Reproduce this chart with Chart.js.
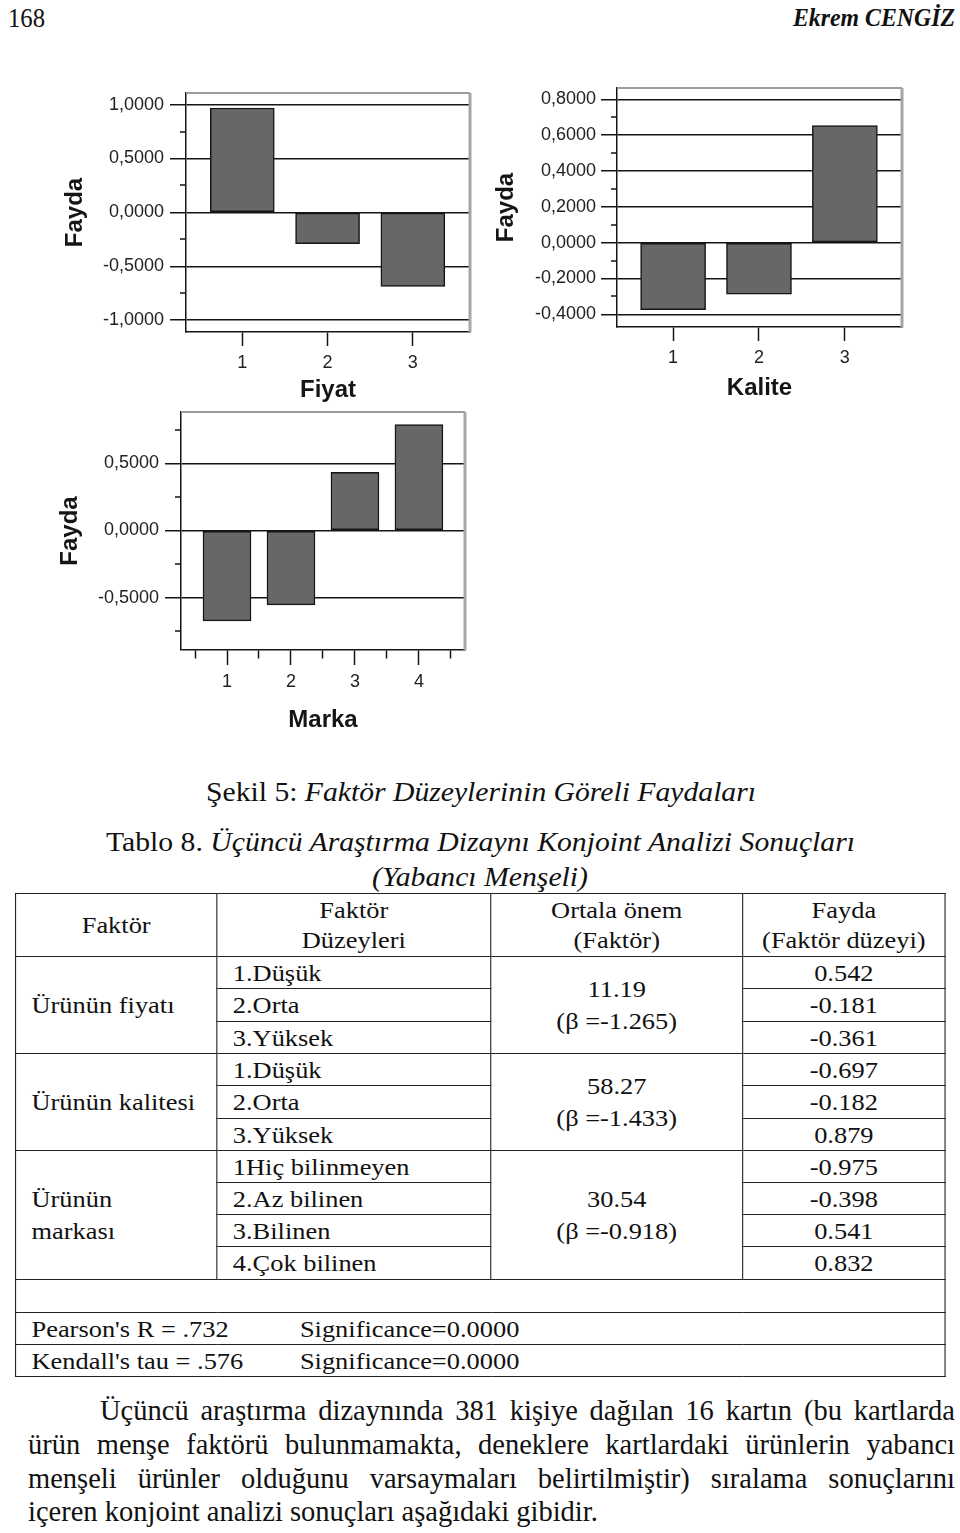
<!DOCTYPE html>
<html lang="tr">
<head>
<meta charset="UTF-8">
<title>Faktör Düzeylerinin Göreli Faydaları</title>
<script src="https://cdn.jsdelivr.net/npm/chart.js"></script>
<style>
  body { margin: 0; background: #fff; }
  #page { position: relative; width: 960px; height: 1533px; overflow: hidden; background: #fff;
          font-family: "Liberation Serif", "Times New Roman", serif; color: #111; }
  canvas { position: absolute; }
  .t { position: absolute; white-space: nowrap; display: inline-block; line-height: 1; transform-origin: 0 50%; }
  #tbl { position: absolute; left: 15px; top: 893px; width: 845px; border-collapse: collapse; table-layout: fixed;
         transform: scaleX(1.1); transform-origin: 0 0; font-size: 24px; }
  #tbl td { border: 1.5px solid #222; padding: 0 14px; line-height: 28px; vertical-align: middle; white-space: nowrap; }
  #tbl .c { text-align: center; padding: 0; }
  #tbl tr.h td { line-height: 30px; }
  #tbl td.g { line-height: 32px; }
  .par { position: absolute; font-size: 28.5px; line-height: 34px; white-space: nowrap; }
</style>
</head>
<body>
<div id="page">
  <div class="t" style="left:8px;top:5px;font-size:27px" data-w="37">168</div>
  <div class="t" style="left:793px;top:5px;font-size:26px;font-weight:bold;font-style:italic" data-w="162">Ekrem CENGİZ</div>

  <canvas id="fiyat" width="440" height="340" style="left:40px;top:70px"></canvas>
  <canvas id="kalite" width="440" height="340" style="left:480px;top:70px"></canvas>
  <canvas id="marka" width="440" height="340" style="left:40px;top:400px"></canvas>

  <div class="t" style="left:206px;top:778px;font-size:28px" data-w="550">Şekil 5: <i>Faktör Düzeylerinin Göreli Faydaları</i></div>
  <div class="t" style="left:106px;top:828px;font-size:28px" data-w="749">Tablo 8. <i>Üçüncü Araştırma Dizaynı Konjoint Analizi Sonuçları</i></div>
  <div class="t" style="left:372px;top:863px;font-size:28px" data-w="216"><i>(Yabancı Menşeli)</i></div>

  <table id="tbl">
    <colgroup><col style="width:183px"><col style="width:249px"><col style="width:229px"><col style="width:184px"></colgroup>
    <tr class="h" style="height:63px">
      <td class="c">Faktör</td>
      <td class="c">Faktör<br>Düzeyleri</td>
      <td class="c">Ortala önem<br>(Faktör)</td>
      <td class="c">Fayda<br>(Faktör düzeyi)</td>
    </tr>
    <tr style="height:32px"><td class="g" rowspan="3">Ürünün fiyatı</td><td>1.Düşük</td><td class="c g" rowspan="3">11.19<br>(β =-1.265)</td><td class="c">0.542</td></tr>
    <tr style="height:33px"><td>2.Orta</td><td class="c">-0.181</td></tr>
    <tr style="height:32px"><td>3.Yüksek</td><td class="c">-0.361</td></tr>
    <tr style="height:32px"><td class="g" rowspan="3">Ürünün kalitesi</td><td>1.Düşük</td><td class="c g" rowspan="3">58.27<br>(β =-1.433)</td><td class="c">-0.697</td></tr>
    <tr style="height:33px"><td>2.Orta</td><td class="c">-0.182</td></tr>
    <tr style="height:32px"><td>3.Yüksek</td><td class="c">0.879</td></tr>
    <tr style="height:32px"><td class="g" rowspan="4">Ürünün<br>markası</td><td>1Hiç bilinmeyen</td><td class="c g" rowspan="4">30.54<br>(β =-0.918)</td><td class="c">-0.975</td></tr>
    <tr style="height:32px"><td>2.Az bilinen</td><td class="c">-0.398</td></tr>
    <tr style="height:32px"><td>3.Bilinen</td><td class="c">0.541</td></tr>
    <tr style="height:33px"><td>4.Çok bilinen</td><td class="c">0.832</td></tr>
    <tr style="height:33px"><td colspan="4"></td></tr>
    <tr style="height:32px"><td colspan="4"><span style="display:inline-block;width:244px">Pearson's R = .732</span>Significance=0.0000</td></tr>
    <tr style="height:32px"><td colspan="4"><span style="display:inline-block;width:244px">Kendall's tau = .576</span>Significance=0.0000</td></tr>
  </table>

  <div class="par" data-j="855" style="left:100px;top:1394px">Üçüncü araştırma dizaynında 381 kişiye dağılan 16 kartın (bu kartlarda</div>
  <div class="par" data-j="927" style="left:28px;top:1428px">ürün menşe faktörü bulunmamakta, deneklere kartlardaki ürünlerin yabancı</div>
  <div class="par" data-j="927" style="left:28px;top:1462px">menşeli ürünler olduğunu varsaymaları belirtilmiştir) sıralama sonuçlarını</div>
  <div class="par" style="left:28px;top:1495px">içeren konjoint analizi sonuçları aşağıdaki gibidir.</div>
</div>

<script>
// Fiyat
const fiyatLevels = [1, 2, 3];
const fiyatValues = [0.969, -0.291, -0.687];
const fiyatMajor = [-1, -0.5, 0, 0.5, 1];
const fiyatMinor = [-0.75, -0.25, 0.25, 0.75];

// Kalite
const kaliteLevels = [1, 2, 3];
const kaliteValues = [-0.374, -0.288, 0.653];
const kaliteMajor = [-0.4, -0.2, 0, 0.2, 0.4, 0.6, 0.8];
const kaliteMinor = [-0.3, -0.1, 0.1, 0.3, 0.5, 0.7];

// Marka
const markaLevels = [1, 2, 3, 4];
const markaValues = [-0.672, -0.553, 0.432, 0.787];
const markaMajor = [-0.5, 0, 0.5];
const markaMinor = [-0.75, -0.25, 0.25, 0.75];
const markaBounds = [0.5, 1.5, 2.5, 3.5, 4.5];

const INK = '#151515';
const fmt = v => v.toFixed(4).replace('.', ',');

// gri cerceve (ust ve sag)
const framePlugin = {
    id: 'frame',
    beforeDatasetsDraw(chart) {
        const { ctx, chartArea: a } = chart;
        ctx.save();
        ctx.strokeStyle = '#9c9c9c';
        ctx.lineWidth = 2;
        ctx.beginPath(); ctx.moveTo(a.left, a.top); ctx.lineTo(a.right, a.top); ctx.stroke();
        ctx.strokeStyle = '#a6a6a6';
        ctx.lineWidth = 3;
        ctx.beginPath(); ctx.moveTo(a.right, a.top); ctx.lineTo(a.right, a.bottom); ctx.stroke();
        ctx.restore();
    }
};

function makeChart(id, levels, values, major, minor, bounds, o) {
    const xTicks = levels.concat(bounds).sort((a, b) => a - b);
    const yTicks = major.concat(minor).sort((a, b) => a - b);
    const isMajor = c => c.tick && major.includes(c.tick.value);
    const isLevel = c => c.tick && levels.includes(c.tick.value);

    new Chart(document.getElementById(id), {
        type: 'bar',
        data: {
            datasets: [{
                data: levels.map((l, i) => ({ x: l, y: values[i] })),
                backgroundColor: '#676767',
                borderColor: INK,
                borderWidth: 1.5,
                borderSkipped: false,
                barThickness: o.bar
            }]
        },
        options: {
            responsive: false,
            animation: false,
            layout: { padding: { top: o.top, right: o.right, bottom: 0, left: 0 } },
            plugins: { legend: { display: false }, tooltip: { enabled: false } },
            scales: {
                x: {
                    type: 'linear',
                    min: o.xMin, max: o.xMax,
                    offset: false,
                    afterBuildTicks: s => { s.ticks = xTicks.map(v => ({ value: v })); },
                    afterFit: s => { s.height = o.xH; s.paddingLeft = 0; s.paddingRight = 0; },
                    border: { color: INK, width: 1.5 },
                    grid: {
                        offset: false,
                        drawOnChartArea: false,
                        tickLength: o.xTl,
                        tickWidth: 1.5,
                        tickColor: INK,
                        tickBorderDash: c => isLevel(c) ? [] : [8, 100]
                    },
                    ticks: {
                        autoSkip: false, maxRotation: 0, padding: 6, color: '#222',
                        font: { family: 'Liberation Sans', size: 18 },
                        callback: v => levels.includes(v) ? String(v) : ''
                    },
                    title: {
                        display: true, text: o.xTitle, color: INK,
                        font: { family: 'Liberation Sans', size: 24, weight: 'bold' },
                        padding: { top: 0, bottom: o.xTitlePad }
                    }
                },
                y: {
                    type: 'linear',
                    min: o.yMin, max: o.yMax,
                    afterBuildTicks: s => { s.ticks = yTicks.map(v => ({ value: v })); },
                    afterFit: s => { s.width = o.yW; s.paddingTop = 0; s.paddingBottom = 0; },
                    border: { color: INK, width: 1.5 },
                    grid: {
                        color: INK,
                        lineWidth: c => isMajor(c) ? 1.5 : 0,
                        tickLength: 16,
                        tickWidth: 1.5,
                        tickColor: INK,
                        tickBorderDash: c => isMajor(c) ? [] : [0, 10, 6, 100]
                    },
                    ticks: {
                        autoSkip: false, padding: o.yPad, color: '#222',
                        font: { family: 'Liberation Sans', size: 18 },
                        callback: v => major.includes(v) ? fmt(v) : ''
                    },
                    title: {
                        display: true, text: 'Fayda', color: INK,
                        font: { family: 'Liberation Sans', size: 24, weight: 'bold' },
                        padding: { top: o.yTitlePad, bottom: 0 }
                    }
                }
            }
        },
        plugins: [framePlugin]
    });
}

makeChart('fiyat', fiyatLevels, fiyatValues, fiyatMajor, fiyatMinor, [], {
    bar: 64, top: 23, right: 10, xH: 78, yW: 146, xMin: 0.34, xMax: 3.67,
    yMin: -1.11, yMax: 1.108, xTl: 14, yPad: 6, xTitle: 'Fiyat', xTitlePad: 5.6, yTitlePad: 20.6
});
makeChart('kalite', kaliteLevels, kaliteValues, kaliteMajor, kaliteMinor, [], {
    bar: 65, top: 18, right: 18, xH: 83, yW: 137, xMin: 0.347, xMax: 3.665,
    yMin: -0.471, yMax: 0.863, xTl: 14, yPad: 5, xTitle: 'Kalite', xTitlePad: 7.6, yTitlePad: 12.3
});
makeChart('marka', markaLevels, markaValues, markaMajor, markaMinor, markaBounds, {
    bar: 48, top: 12, right: 15, xH: 90, yW: 141, xMin: 0.281, xMax: 4.72,
    yMin: -0.888, yMax: 0.881, xTl: 15, yPad: 6, xTitle: 'Marka', xTitlePad: 5.6, yTitlePad: 15.6
});

// metin satirlarini hedef genislige sigdir
document.querySelectorAll('.t[data-w]').forEach(el => {
    const w = el.getBoundingClientRect().width;
    el.style.transform = 'scaleX(' + (parseFloat(el.dataset.w) / w) + ')';
});

// paragraf satirlarini iki yana yasla
document.querySelectorAll('.par[data-j]').forEach(el => {
    const target = parseFloat(el.dataset.j);
    const w = el.getBoundingClientRect().width;
    const gaps = (el.textContent.match(/ /g) || []).length;
    if (w < target) {
        el.style.wordSpacing = ((target - w) / gaps) + 'px';
    } else {
        el.style.transformOrigin = '0 50%';
        el.style.transform = 'scaleX(' + (target / w) + ')';
    }
});
</script>
</body>
</html>
